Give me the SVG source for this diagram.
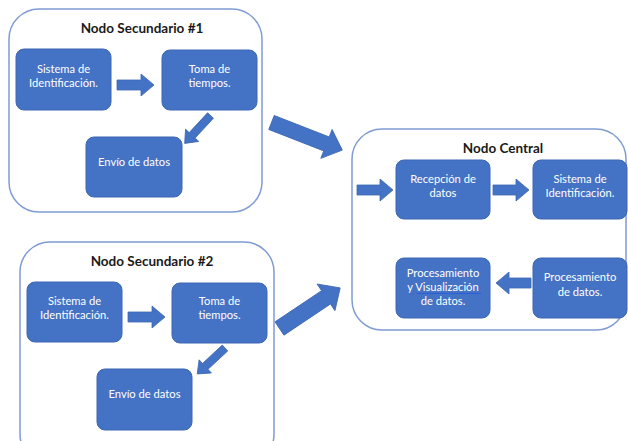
<svg xmlns="http://www.w3.org/2000/svg" width="628" height="441" viewBox="0 0 628 441">
<defs>
<style>
.cont{fill:#ffffff;stroke:#7f9cd3;stroke-width:1.5}
.box{fill:#4472c4;stroke:#3d67b3;stroke-width:1}
.t{fill:#ffffff;font-family:Lato,"Liberation Sans",sans-serif;font-size:11.2px;text-anchor:middle}
.title{fill:#1a1a1a;font-family:Lato,"Liberation Sans",sans-serif;font-size:13.5px;font-weight:bold;text-anchor:middle}
.arr{fill:#4472c4;stroke:#3d67b3;stroke-width:0.8}
</style>
</defs>
<rect width="628" height="441" fill="#ffffff"/>

<g id="nodo-secundario-1">
<rect class="cont" x="9" y="9" width="253" height="203" rx="30"/>
<text class="title" x="142" y="33">Nodo Secundario #1</text>
</g>
<g id="n1-sistema">
<rect class="box" x="16" y="49" width="95" height="61" rx="8"/>
<text class="t" x="63.5" y="73">Sistema de</text>
<text class="t" x="63.5" y="87">Identificación.</text>
</g>
<g id="n1-toma">
<rect class="box" x="162" y="50" width="95" height="60" rx="8"/>
<text class="t" x="209.5" y="73">Toma de</text>
<text class="t" x="209.5" y="87">tiempos.</text>
</g>
<g id="n1-envio">
<rect class="box" x="86" y="137" width="96" height="60" rx="8"/>
<text class="t" x="134" y="166">Envío de datos</text>
</g>

<g id="nodo-secundario-2">
<rect class="cont" x="20" y="242" width="254" height="222" rx="30"/>
<text class="title" x="152" y="266">Nodo Secundario #2</text>
</g>
<g id="n2-sistema">
<rect class="box" x="27" y="282" width="95" height="60" rx="8"/>
<text class="t" x="74.5" y="305">Sistema de</text>
<text class="t" x="74.5" y="319">Identificación.</text>
</g>
<g id="n2-toma">
<rect class="box" x="172" y="283" width="95" height="60" rx="8"/>
<text class="t" x="219.5" y="305">Toma de</text>
<text class="t" x="219.5" y="319">tiempos.</text>
</g>
<g id="n2-envio">
<rect class="box" x="97" y="369" width="95" height="61" rx="8"/>
<text class="t" x="144.5" y="398">Envío de datos</text>
</g>

<g id="nodo-central">
<rect class="cont" x="352" y="129" width="274" height="201" rx="30"/>
<text class="title" x="503" y="153">Nodo Central</text>
</g>
<g id="c-recepcion">
<rect class="box" x="396" y="160" width="94" height="59" rx="8"/>
<text class="t" x="443" y="183">Recepción de</text>
<text class="t" x="443" y="197">datos</text>
</g>
<g id="c-sistema">
<rect class="box" x="533" y="160" width="94" height="59" rx="8"/>
<text class="t" x="580" y="183">Sistema de</text>
<text class="t" x="580" y="197">Identificación.</text>
</g>
<g id="c-procvis">
<rect class="box" x="396" y="258" width="94" height="60" rx="8"/>
<text class="t" x="443" y="277">Procesamiento</text>
<text class="t" x="443" y="291">y Visualización</text>
<line x1="417" y1="293.5" x2="481" y2="293.5" stroke="#2b5fd9" stroke-width="1"/>
<text class="t" x="443" y="305">de datos.</text>
</g>
<g id="c-proc">
<rect class="box" x="533" y="258" width="94" height="60" rx="8"/>
<text class="t" x="580" y="281">Procesamiento</text>
<text class="t" x="580" y="296">de datos.</text>
</g>

<g id="connectors">
<path class="arr" transform="translate(117,85)" d="M0,-5 L24,-5 L24,-11 L37,0 L24,11 L24,5 L0,5 Z"/>
<path class="arr" transform="translate(128,317)" d="M0,-5 L24,-5 L24,-11 L37,0 L24,11 L24,5 L0,5 Z"/>
<path class="arr" transform="translate(357,190)" d="M0,-5 L23,-5 L23,-11 L36,0 L23,11 L23,5 L0,5 Z"/>
<path class="arr" transform="translate(493,190)" d="M0,-5 L23,-5 L23,-11 L36,0 L23,11 L23,5 L0,5 Z"/>
<path class="arr" transform="translate(531,283) rotate(180)" d="M0,-5 L22,-5 L22,-11 L35,0 L22,11 L22,5 L0,5 Z"/>
<path class="arr" transform="translate(210.5,115.5) rotate(132.8)" d="M0,-4 L27,-4 L27,-9 L38,0 L27,9 L27,4 L0,4 Z"/>
<path class="arr" transform="translate(225,348) rotate(137)" d="M0,-4 L27,-4 L27,-9 L38,0 L27,9 L27,4 L0,4 Z"/>
<path class="arr" transform="translate(271.5,122.5) rotate(21.3)" d="M0,-7.5 L59,-7.5 L59,-15.5 L76,0 L59,15.5 L59,7.5 L0,7.5 Z"/>
<path class="arr" transform="translate(279.5,328.5) rotate(-33.8)" d="M0,-8 L56,-8 L56,-16 L73,0 L56,16 L56,8 L0,8 Z"/>
</g>
</svg>
